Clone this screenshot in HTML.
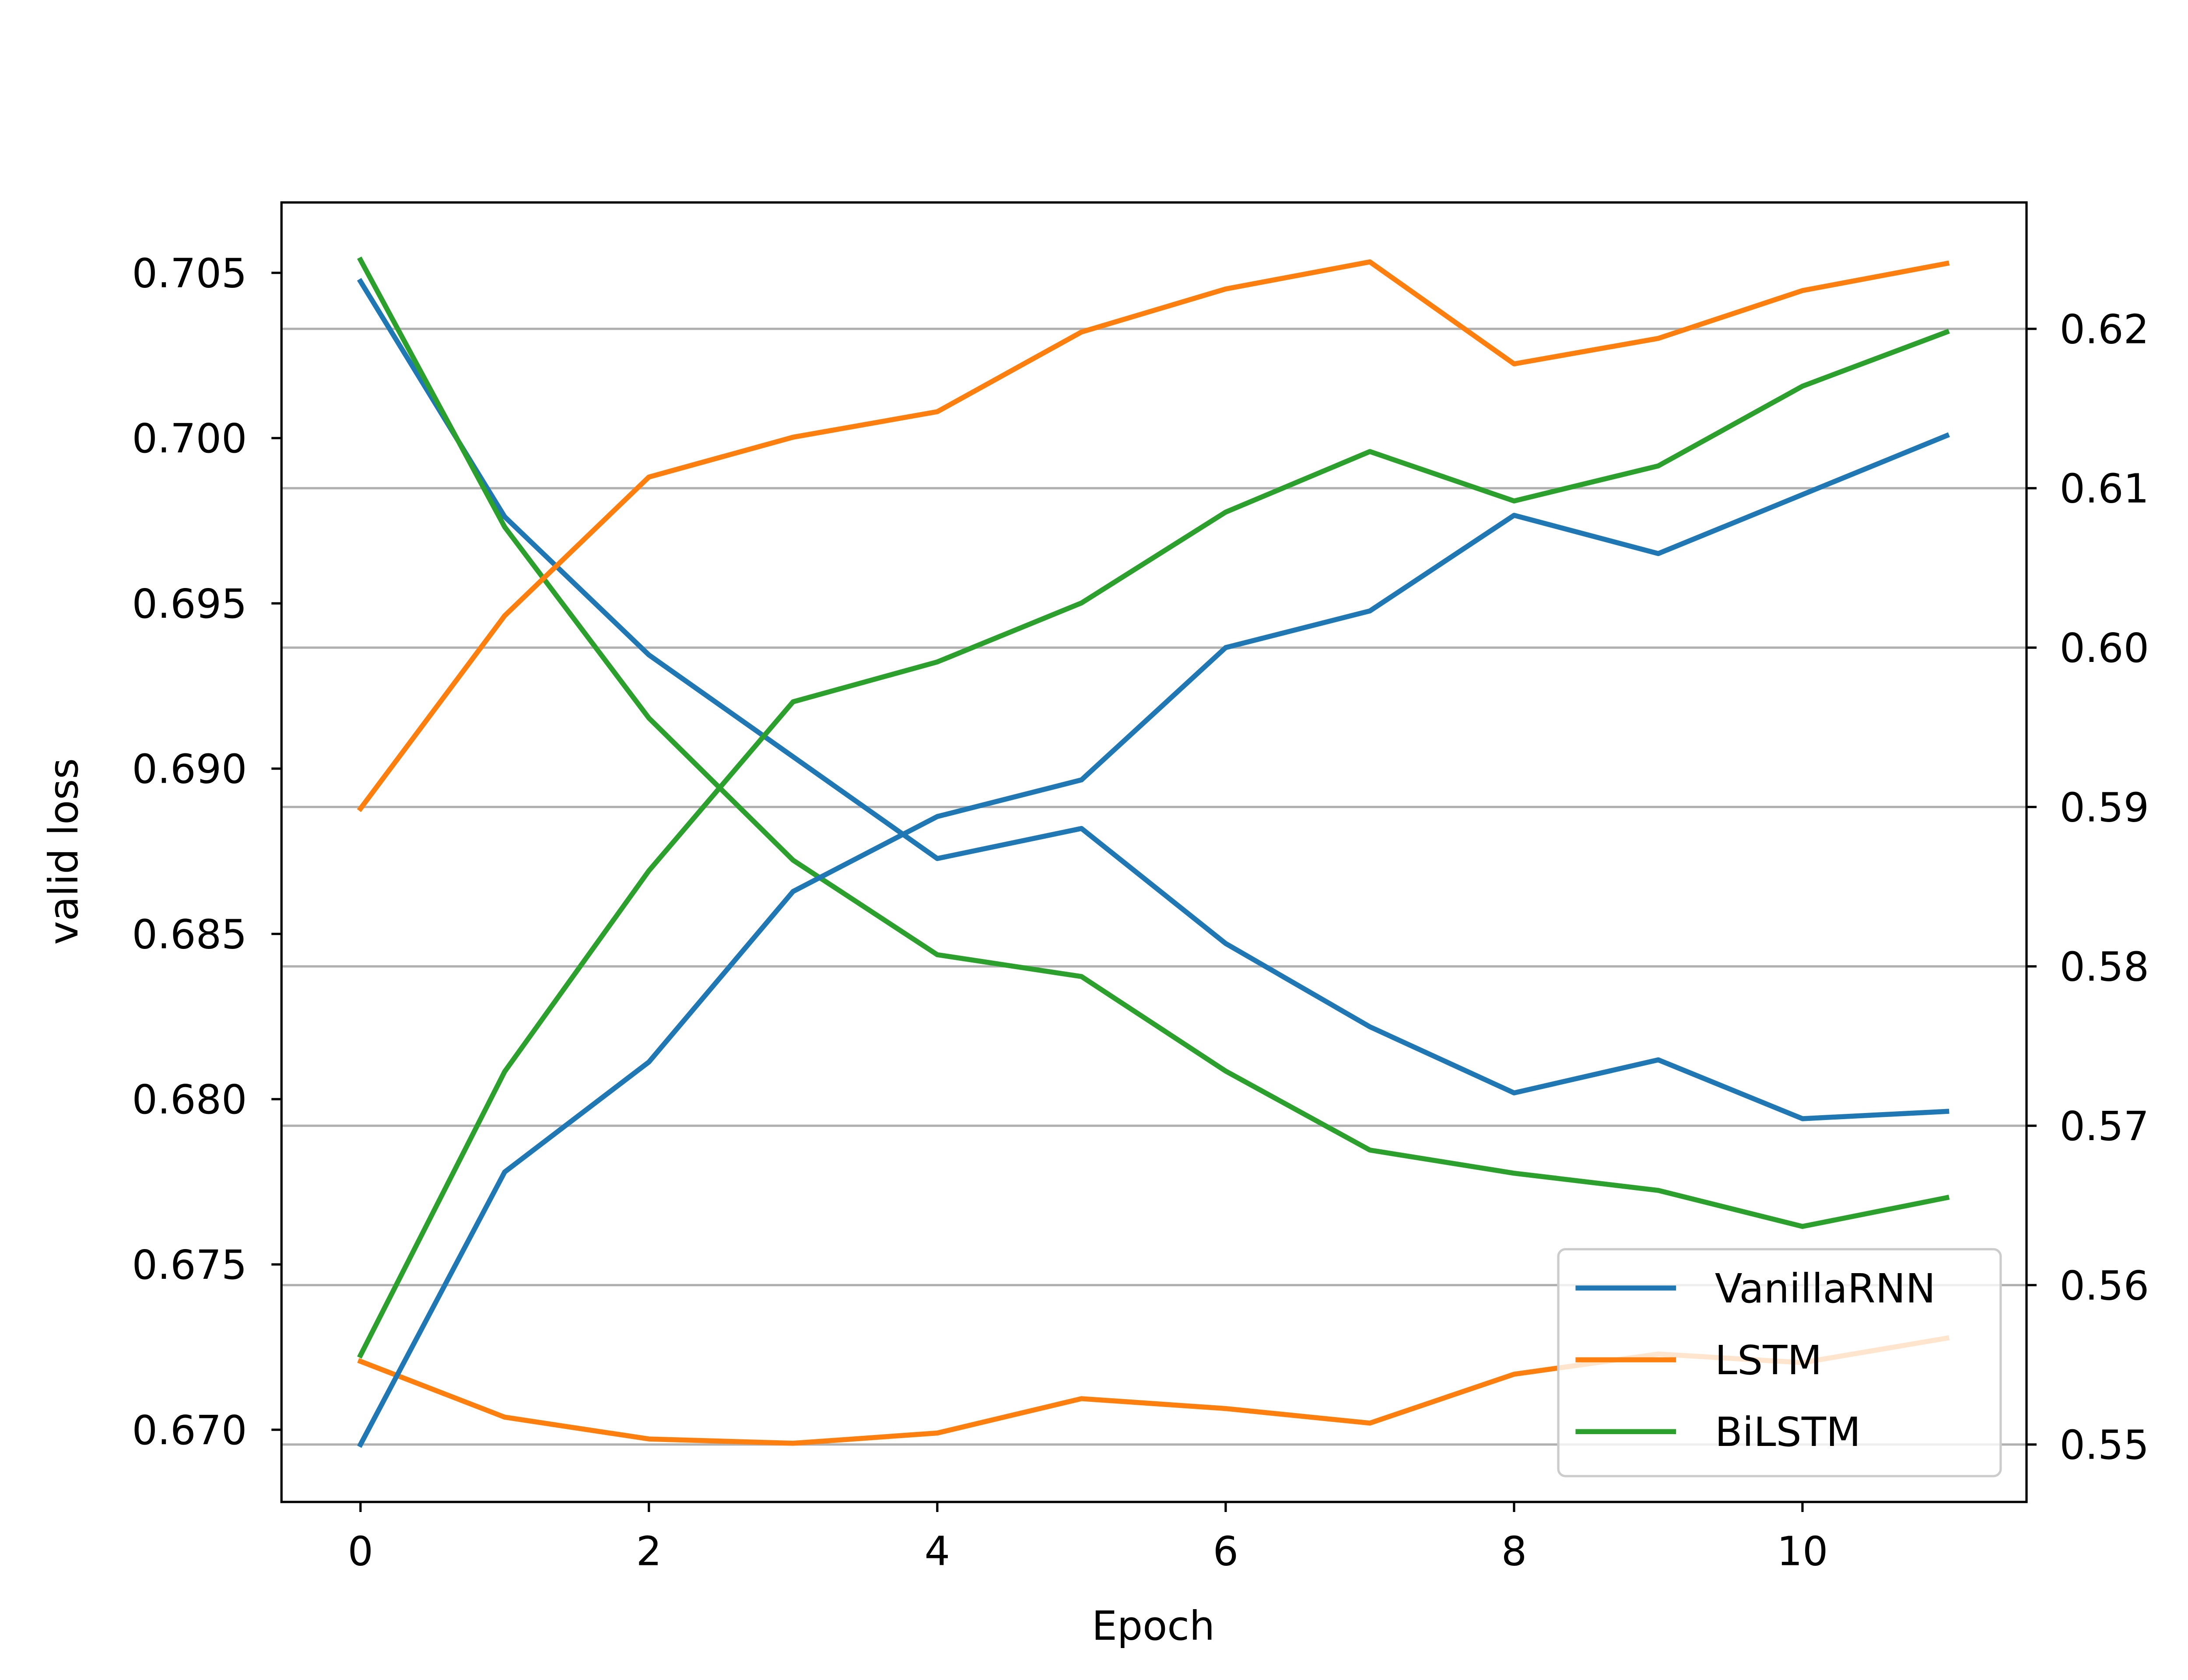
<!DOCTYPE html>
<html><head><meta charset="utf-8"><style>
html,body{margin:0;padding:0;background:#fff}
svg{display:block}
text{font-family:"DejaVu Sans","Liberation Sans",sans-serif;fill:#000}
</style></head><body>
<svg id="chart" width="5120" height="3840" viewBox="0 0 1560 1170" xmlns="http://www.w3.org/2000/svg">
<rect width="1560" height="1170" fill="#fff"/>
<g id="grid"></g>
<g id="lines"></g>
<rect x="196" y="141" width="1215" height="905" fill="none" stroke="#000" stroke-width="1.6"/>
<g id="axes"></g>
<text x="803" y="1142" font-size="28" text-anchor="middle">Epoch</text>
<text transform="translate(54,593) rotate(-90)" font-size="28" text-anchor="middle">valid loss</text>
<text transform="translate(1545,593) rotate(-90)" font-size="28" text-anchor="middle">valid acc</text>
<g id="legend"></g>
</svg>
<script>
const epochs=[0,1,2,3,4,5,6,7,8,9,10,11];
const xTicks=[0,2,4,6,8,10];
const lossTicks=[0.670,0.675,0.680,0.685,0.690,0.695,0.700,0.705];
const accTicks=[0.55,0.56,0.57,0.58,0.59,0.60,0.61,0.62];
const rnnLoss=[0.70474,0.69762,0.69344,0.69036,0.68728,0.68819,0.68471,0.68219,0.68019,0.68119,0.67941,0.67963];
const rnnAcc=[0.5500,0.5671,0.5740,0.5847,0.5894,0.5917,0.6000,0.6023,0.6083,0.6059,0.6096,0.6133];
const lstmLoss=[0.67207,0.67038,0.66972,0.66959,0.6699,0.67094,0.67064,0.6702,0.67168,0.67229,0.67203,0.67277];
const lstmAcc=[0.5899,0.6020,0.6107,0.6132,0.6148,0.6198,0.6225,0.6242,0.6178,0.6194,0.6224,0.6241];
const biLoss=[0.70539,0.69731,0.69153,0.68723,0.68437,0.68371,0.68085,0.67846,0.67776,0.67724,0.67615,0.67702];
const biAcc=[0.5556,0.5734,0.5860,0.5966,0.5991,0.6028,0.6085,0.6123,0.6092,0.6114,0.6164,0.6198];
const names=["VanillaRNN","LSTM","BiLSTM"];
const colors=["#1f77b4","#ff7f0e","#2ca02c"];

const NS="http://www.w3.org/2000/svg";
const X=v=>251+v*100.4;
const YL=v=>190+(0.705-v)/0.005*115.1;
const YR=v=>229+(0.62-v)/0.01*111;
function mk(tag,attrs,parent){const e=document.createElementNS(NS,tag);for(const k in attrs)e.setAttribute(k,attrs[k]);parent.appendChild(e);return e;}
const grid=document.getElementById('grid'),lines=document.getElementById('lines'),axes=document.getElementById('axes'),legend=document.getElementById('legend');

accTicks.forEach(t=>{
  const g=mk('line',{x1:196,x2:1411,y1:YR(t),y2:YR(t),stroke:'#b0b0b0','stroke-width':1.6},grid);
  
  
  const tk=mk('line',{x1:1411,x2:1418,y1:YR(t),y2:YR(t),stroke:'#000','stroke-width':1.6},axes);
  
  
  const tx=mk('text',{x:1434,y:YR(t)+10,'font-size':28},axes);
  tx.textContent=t.toFixed(2);
  
  
});
lossTicks.forEach(t=>{
  const tk=mk('line',{x1:189,x2:196,y1:YL(t),y2:YL(t),stroke:'#000','stroke-width':1.6},axes);
  
  
  const tx=mk('text',{x:172,y:YL(t)+10,'font-size':28,'text-anchor':'end'},axes);
  tx.textContent=t.toFixed(3);
  
  
});
xTicks.forEach(t=>{
  const tk=mk('line',{x1:X(t),x2:X(t),y1:1046,y2:1053,stroke:'#000','stroke-width':1.6},axes);
  
  
  const tx=mk('text',{x:X(t),y:1090,'font-size':28,'text-anchor':'middle'},axes);
  tx.textContent=String(t);
  
  
});
function series(vals,yf,color,name){
  const p=mk('polyline',{points:vals.map((v,i)=>X(epochs[i])+','+yf(v)).join(' '),fill:'none',stroke:color,'stroke-width':3.5,'stroke-linejoin':'round','stroke-linecap':'square'},lines);
  
  
}
series(rnnLoss,YL,colors[0],'vanillarnn-loss-line');
series(lstmLoss,YL,colors[1],'lstm-loss-line');
series(biLoss,YL,colors[2],'bilstm-loss-line');
series(rnnAcc,YR,colors[0],'vanillarnn-acc-line');
series(lstmAcc,YR,colors[1],'lstm-acc-line');
series(biAcc,YR,colors[2],'bilstm-acc-line');

const box=mk('rect',{x:1085,y:870,width:308,height:158,rx:5,fill:'#fff','fill-opacity':0.8,stroke:'#ccc','stroke-width':1.6},legend);


names.forEach((n,i)=>{
  const y=897+i*50;
  const l=mk('line',{x1:1097,x2:1167,y1:y,y2:y,stroke:colors[i],'stroke-width':3.5},legend);
  
  
  const t=mk('text',{x:1194,y:y+10,'font-size':28},legend);
  t.textContent=n;
  
  
});
</script>
</body></html>
